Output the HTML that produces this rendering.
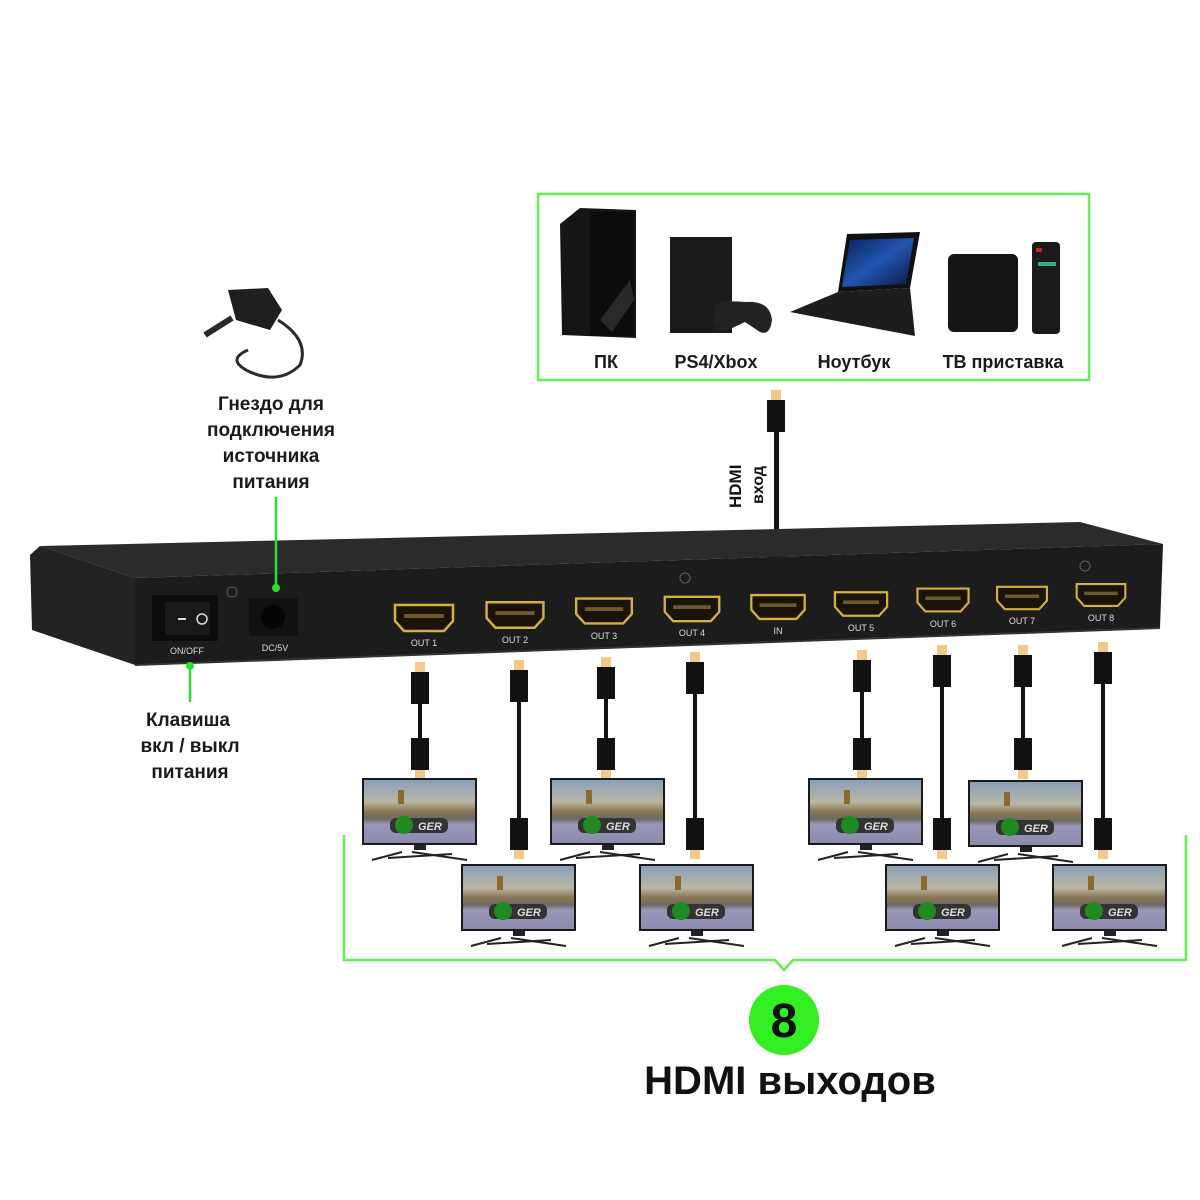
<!DOCTYPE html>
<html><head><meta charset="utf-8"><style>
html,body{margin:0;padding:0;background:#fff;width:1200px;height:1200px;overflow:hidden}
svg{display:block}
text{font-family:"Liberation Sans",sans-serif}
</style></head><body>
<svg width="1200" height="1200" viewBox="0 0 1200 1200" xmlns="http://www.w3.org/2000/svg">
<defs>
<linearGradient id="sky" x1="0" y1="0" x2="0" y2="1">
<stop offset="0" stop-color="#8aa0b8"/><stop offset="0.35" stop-color="#b9b6a6"/><stop offset="0.5" stop-color="#8a7550"/><stop offset="0.62" stop-color="#6d6a66"/><stop offset="0.7" stop-color="#9a97b8"/><stop offset="1" stop-color="#8c8aae"/>
</linearGradient>
<linearGradient id="lap" x1="0" y1="0" x2="1" y2="1"><stop offset="0" stop-color="#0a1f5a"/><stop offset="0.5" stop-color="#2255b0"/><stop offset="1" stop-color="#081640"/></linearGradient>
<g id="tv">
<rect x="0" y="0" width="115" height="67" fill="#1a1a1a"/>
<rect x="2" y="2" width="111" height="63" fill="url(#sky)"/>
<rect x="36" y="12" width="6" height="14" fill="#8a6a30"/>
<rect x="28" y="40" width="58" height="15" rx="6" fill="#333"/>
<circle cx="42" cy="47" r="9" fill="#1e8a20"/>
<text x="56" y="52" font-size="11" font-weight="bold" font-style="italic" fill="#ddd">GER</text>
<path d="M26 80 L90 76 M10 82 L40 74 M50 74 L105 82" stroke="#222" stroke-width="2"/>
<rect x="52" y="67" width="12" height="5" fill="#222"/>
</g>
<g id="plugU"><rect x="-5" y="0" width="10" height="10" fill="#f3c98a"/><rect x="-9" y="10" width="18" height="32" fill="#111"/></g>
<g id="plugD"><rect x="-9" y="0" width="18" height="32" fill="#111"/><rect x="-5" y="32" width="10" height="9" fill="#f3c98a"/></g>
<g id="port"><path d="M-29 -13 L29 -13 L29 3 L20 13 L-20 13 L-29 3 Z" fill="#1a1408" stroke="#d4b040" stroke-width="2.5"/><rect x="-20" y="-4" width="40" height="4" fill="#6a5a30"/></g>
</defs>

<rect x="538" y="194" width="551" height="186" fill="none" stroke="#66ee55" stroke-width="2.5"/>
<path d="M560 224 L580 208 L636 210 L636 338 L562 335 Z" fill="#151515"/>
<rect x="590" y="212" width="44" height="124" fill="#0c0c0c"/>
<path d="M600 320 L630 280 L634 300 L612 332 Z" fill="#2a2a2a"/>
<rect x="670" y="237" width="62" height="96" fill="#1a1a1a"/>
<path d="M715 305 Q720 300 745 302 Q770 300 772 320 Q770 336 760 332 L745 322 L728 330 Q716 334 714 320 Z" fill="#222"/>
<path d="M847 234 L920 232 L910 288 L838 292 Z" fill="#111"/>
<path d="M850 240 L914 238 L906 284 L842 287 Z" fill="url(#lap)"/>
<path d="M838 292 L910 288 L915 336 L790 312 Z" fill="#1d1d1d"/>
<rect x="948" y="254" width="70" height="78" rx="6" fill="#161616"/>
<rect x="1032" y="242" width="28" height="92" rx="4" fill="#1b1b1b"/>
<rect x="1036" y="248" width="6" height="4" fill="#c22"/><rect x="1038" y="262" width="18" height="4" fill="#3a8"/>
<g font-size="18" font-weight="bold" fill="#1a1a1a" text-anchor="middle">
<text x="606" y="368">ПК</text><text x="716" y="368">PS4/Xbox</text><text x="854" y="368">Ноутбук</text><text x="1003" y="368">ТВ приставка</text>
</g>

<path d="M228 290 L268 288 L282 310 L270 330 L236 320 Z" fill="#1f1f1f"/>
<path d="M205 335 L232 318" stroke="#2a2a2a" stroke-width="6"/>
<path d="M278 320 Q310 340 300 365 Q280 385 250 372 Q225 360 248 350" fill="none" stroke="#2a2a2a" stroke-width="3"/>
<g font-size="19" font-weight="bold" fill="#1a1a1a" text-anchor="middle">
<text x="271" y="410">Гнездо для</text><text x="271" y="436">подключения</text><text x="271" y="462">источника</text><text x="271" y="488">питания</text>
<text x="188" y="726">Клавиша</text><text x="190" y="752">вкл / выкл</text><text x="190" y="778">питания</text>
</g>

<use href="#plugU" x="776" y="390"/>
<rect x="774" y="430" width="5" height="115" fill="#111"/>
<use href="#plugD" x="776" y="544"/>
<text transform="translate(741,508) rotate(-90)" font-size="17" font-weight="bold" fill="#111">HDMI</text>
<text transform="translate(763,504) rotate(-90)" font-size="16" font-weight="bold" fill="#111">вход</text>

<path d="M40 546 L1080 522 L1163 544 L135 578 Z" fill="#2b2b2b"/>
<path d="M30 555 L40 546 L135 578 L135 665 L32 630 Z" fill="#232323"/>
<path d="M135 578 L1163 544 L1160 628 L135 665 Z" fill="#1c1c1c"/>
<path d="M135 665 L1160 628" stroke="#333" stroke-width="2"/>
<rect x="152" y="595" width="66" height="46" fill="#0c0c0c"/>
<rect x="165" y="602" width="45" height="33" fill="#1a1a1a"/>
<rect x="178" y="618" width="8" height="2" fill="#ddd"/><circle cx="202" cy="619" r="5" fill="none" stroke="#ddd" stroke-width="1.5"/>
<rect x="249" y="598" width="49" height="38" fill="#111"/><circle cx="273" cy="617" r="12" fill="#050505"/>
<circle cx="232" cy="592" r="5" fill="none" stroke="#555" stroke-width="1.3"/>
<circle cx="685" cy="578" r="5" fill="none" stroke="#555" stroke-width="1.3"/>
<circle cx="1085" cy="566" r="5" fill="none" stroke="#555" stroke-width="1.3"/>
<g font-size="9" fill="#ddd" text-anchor="middle">
<text x="187" y="654">ON/OFF</text><text x="275" y="651">DC/5V</text>
<text x="424" y="646">OUT 1</text><text x="515" y="643">OUT 2</text><text x="604" y="639">OUT 3</text><text x="692" y="636">OUT 4</text><text x="778" y="634">IN</text><text x="861" y="631">OUT 5</text><text x="943" y="627">OUT 6</text><text x="1022" y="624">OUT 7</text><text x="1101" y="621">OUT 8</text>
</g>
<use href="#port" x="424" y="618"/><use href="#port" transform="translate(515,615) scale(.98)"/><use href="#port" transform="translate(604,611) scale(.96)"/><use href="#port" transform="translate(692,609) scale(.94)"/><use href="#port" transform="translate(778,607) scale(.92)"/><use href="#port" transform="translate(861,604) scale(.9)"/><use href="#port" transform="translate(943,600) scale(.88)"/><use href="#port" transform="translate(1022,598) scale(.86)"/><use href="#port" transform="translate(1101,595) scale(.84)"/>

<path d="M276 497 V588" stroke="#2ee02e" stroke-width="2.5"/><circle cx="276" cy="588" r="4" fill="#2ee02e"/>
<path d="M190 665 V702" stroke="#2ee02e" stroke-width="2.5"/><circle cx="190" cy="666" r="4" fill="#2ee02e"/>

<g fill="#111">
<use href="#plugU" x="420" y="662"/><rect x="418" y="704" width="4" height="36"/><use href="#plugD" x="420" y="738"/>
<use href="#plugU" x="606" y="657"/><rect x="604" y="699" width="4" height="40"/><use href="#plugD" x="606" y="738"/>
<use href="#plugU" x="862" y="650"/><rect x="860" y="692" width="4" height="46"/><use href="#plugD" x="862" y="738"/>
<use href="#plugU" x="1023" y="645"/><rect x="1021" y="687" width="4" height="51"/><use href="#plugD" x="1023" y="738"/>
<use href="#plugU" x="519" y="660"/><rect x="517" y="702" width="4" height="118"/><use href="#plugD" x="519" y="818"/>
<use href="#plugU" x="695" y="652"/><rect x="693" y="694" width="4" height="126"/><use href="#plugD" x="695" y="818"/>
<use href="#plugU" x="942" y="645"/><rect x="940" y="687" width="4" height="133"/><use href="#plugD" x="942" y="818"/>
<use href="#plugU" x="1103" y="642"/><rect x="1101" y="684" width="4" height="136"/><use href="#plugD" x="1103" y="818"/>
</g>

<use href="#tv" x="362" y="778"/><use href="#tv" x="550" y="778"/><use href="#tv" x="808" y="778"/><use href="#tv" x="968" y="780"/>
<use href="#tv" x="461" y="864"/><use href="#tv" x="639" y="864"/><use href="#tv" x="885" y="864"/><use href="#tv" x="1052" y="864"/>

<path d="M344 835 V960 H775 L784 970 L793 960 H1186 V835" fill="none" stroke="#66ee55" stroke-width="2.5"/>
<circle cx="784" cy="1020" r="35" fill="#33ee22"/>
<text x="784" y="1037" font-size="48" font-weight="bold" fill="#111" text-anchor="middle">8</text>
<text x="790" y="1094" font-size="40" font-weight="bold" fill="#111" text-anchor="middle">HDMI выходов</text>
</svg>
</body></html>
